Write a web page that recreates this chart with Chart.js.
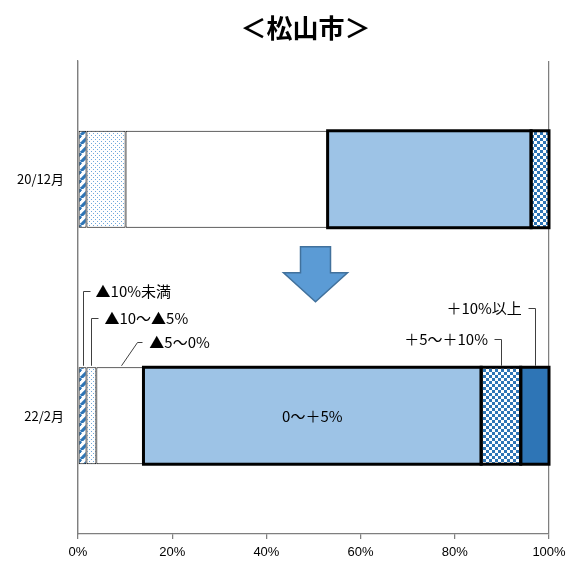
<!DOCTYPE html>
<html>
<head>
<meta charset="utf-8">
<script src="https://cdn.jsdelivr.net/npm/chart.js@4.4.1/dist/chart.umd.min.js"></script>
<style>
  html, body { margin: 0; padding: 0; background: #fff; }
  #wrap { width: 567px; height: 562px; }
</style>
</head>
<body>
<div id="wrap"><canvas id="c" width="567" height="562"></canvas></div>
<script>
// data
const chartTitle = '＜松山市＞';
const periods = ['20/12月', '22/2月'];
const seriesNames = ['▲10%未満', '▲10～▲5%', '▲5～0%', '0～＋5%', '＋5～＋10%', '＋10%以上'];
const dec20 = [1.8, 8.3, 42.9, 43.2, 3.8, 0];
const feb22 = [1.8, 2.1, 10.0, 71.7, 8.4, 6.0];
const xTicks = [0, 20, 40, 60, 80, 100];

const JP = "'Noto Sans CJK JP', sans-serif";

// fill patterns
function makePattern(size, draw) {
  const t = document.createElement('canvas');
  t.width = size; t.height = size;
  const g = t.getContext('2d');
  g.fillStyle = '#fff';
  g.fillRect(0, 0, size, size);
  draw(g, size);
  return document.createElement('canvas').getContext('2d').createPattern(t, 'repeat');
}
const hatch = makePattern(9, (g, s) => {
  g.strokeStyle = '#2E75B6';
  g.lineWidth = 3.2;
  for (const k of [-s, 0, s]) {
    g.beginPath(); g.moveTo(k, s); g.lineTo(k + s, 0); g.stroke();
  }
});
const dots = makePattern(4, (g) => {
  g.fillStyle = '#6FA8DC';
  g.fillRect(1, 1, 1, 1);
  g.fillRect(3, 3, 1, 1);
});
const checker = makePattern(6, (g) => {
  g.fillStyle = '#2E75B6';
  g.fillRect(0, 0, 3, 3);
  g.fillRect(3, 3, 3, 3);
});

const fills = [hatch, dots, '#ffffff', '#9DC3E6', checker, '#2E75B6'];
const thick = [false, false, false, true, true, true];

const datasets = seriesNames.map((name, i) => ({
  label: name,
  data: [dec20[i] || null, feb22[i] || null],
  backgroundColor: fills[i],
  borderColor: '#000',
  borderWidth: thick[i] ? 0 : 1,
  borderSkipped: false,
  categoryPercentage: 1,
  barPercentage: 0.41
}));

// thick outlines, leader lines + labels, the arrow and the title
const annot = {
  id: 'annot',
  afterDatasetsDraw(chart) {
    const { ctx, chartArea: a } = chart;
    const seg = (i, j) => chart.getDatasetMeta(i).data[j];
    const lower = (i) => seg(i, 1);

    ctx.save();
    // Excel-style outlines centred on the segment edges
    ctx.strokeStyle = '#000';
    ctx.lineWidth = 3;
    seriesNames.forEach((_, i) => {
      if (!thick[i]) return;
      chart.getDatasetMeta(i).data.forEach((el, j) => {
        const v = chart.data.datasets[i].data[j];
        if (!v) return;
        ctx.strokeRect(el.base, el.y - el.height / 2, el.x - el.base, el.height);
      });
    });

    ctx.font = '15px ' + JP;
    ctx.fillStyle = '#000';
    ctx.strokeStyle = '#404040';
    ctx.lineWidth = 1;
    ctx.textBaseline = 'middle';

    // [series, anchor fraction, dx, rise, run, gap]
    const leaders = [
      [0, 0.5, 0, 75, 7, 6],
      [1, 0.5, 0, 48, 7, 6],
      [2, 0.53, 16, 24, 5, 7],
      [4, 0.5, 0, 27, -7, 6],
      [5, 0.5, 0, 58, -7, 6]
    ];
    leaders.forEach(([i, f, dx, rise, run, gap]) => {
      const el = lower(i);
      const top = el.y - el.height / 2 - 1.5;
      const x0 = el.base + (el.x - el.base) * f;
      const x1 = x0 + dx, y1 = top - rise;
      ctx.beginPath();
      ctx.moveTo(Math.round(x0) + 0.5, top);
      ctx.lineTo(Math.round(x1) + 0.5, Math.round(y1) + 0.5);
      ctx.lineTo(Math.round(x1 + run) + 0.5, Math.round(y1) + 0.5);
      ctx.stroke();
      ctx.textAlign = run > 0 ? 'left' : 'right';
      ctx.fillText(seriesNames[i], x1 + run + (run > 0 ? gap : -gap), y1 + 1);
    });

    const mid = lower(3);
    ctx.textAlign = 'center';
    ctx.fillText(seriesNames[3], (mid.base + mid.x) / 2, mid.y + 1);

    // arrow between the two bars
    const upper = seg(0, 0);
    const gapTop = upper.y + upper.height / 2;
    const cx = (a.left + a.right) / 2 + 2;
    const t = gapTop + 19;
    const sw = 15, hw = 32, sl = 26, hl = 29;
    ctx.beginPath();
    ctx.moveTo(cx - sw, t);
    ctx.lineTo(cx + sw, t);
    ctx.lineTo(cx + sw, t + sl);
    ctx.lineTo(cx + hw, t + sl);
    ctx.lineTo(cx, t + sl + hl);
    ctx.lineTo(cx - hw, t + sl);
    ctx.lineTo(cx - sw, t + sl);
    ctx.closePath();
    ctx.fillStyle = '#5B9BD5';
    ctx.fill();
    ctx.strokeStyle = '#41719C';
    ctx.lineWidth = 1.5;
    ctx.stroke();

    // title
    ctx.fillStyle = '#000';
    ctx.font = 'bold 26px ' + JP;
    ctx.textAlign = 'center';
    ctx.fillText(chartTitle, (a.left + a.right) / 2 - 8, 28);
    ctx.restore();
  }
};

new Chart(document.getElementById('c'), {
  type: 'bar',
  data: { labels: periods, datasets },
  options: {
    indexAxis: 'y',
    responsive: false,
    animation: false,
    devicePixelRatio: 1,
    layout: { padding: { top: 61, right: 18, left: 0, bottom: 0 } },
    plugins: {
      legend: { display: false },
      tooltip: { enabled: false },
      title: { display: false }
    },
    scales: {
      x: {
        stacked: true,
        min: 0,
        max: 100,
        afterBuildTicks: (s) => { s.ticks = xTicks.map(v => ({ value: v })); },
        afterFit: (s) => { s.height = 28; s.paddingLeft = 0; s.paddingRight = 0; },
        ticks: {
          callback: (v) => v + '%',
          color: '#000',
          padding: 6,
          maxRotation: 0,
          font: { family: "'Liberation Sans Narrow', 'Liberation Sans', sans-serif", size: 13 }
        },
        grid: {
          color: (c) => (c.tick && (c.tick.value === 0 || c.tick.value === 100)) ? '#7f7f7f' : 'rgba(0,0,0,0)',
          tickColor: '#7f7f7f',
          tickLength: 5,
          lineWidth: 1.25
        },
        border: { display: true, color: '#7f7f7f', width: 1.25 }
      },
      y: {
        stacked: true,
        afterFit: (s) => { s.width = 78; },
        ticks: {
          color: '#000',
          padding: 6,
          font: { family: JP, size: 13 }
        },
        grid: { display: false },
        border: { display: true, color: '#7f7f7f', width: 1.25 }
      }
    }
  },
  plugins: [annot]
});
</script>
</body>
</html>
